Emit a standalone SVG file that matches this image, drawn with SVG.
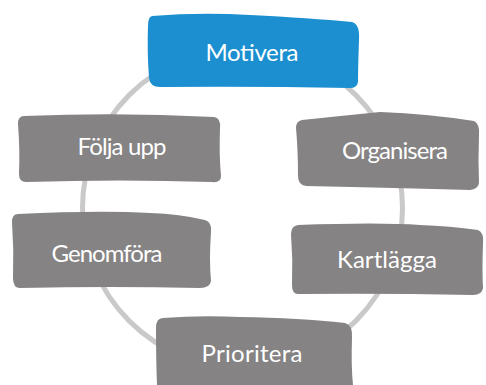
<svg xmlns="http://www.w3.org/2000/svg" width="486" height="385" viewBox="0 0 486 385">
<style>
.gray{fill:#858383}
.blue{fill:#1b8fd0}
.lbl{font-family:"Lato","Open Sans",sans-serif;font-size:24px;fill:#ffffff;text-anchor:middle}
</style>
<rect width="486" height="385" fill="#ffffff"/>
<g id="connectors">
<circle cx="242.5" cy="208" r="160" fill="none" stroke="#c9c9c9" stroke-width="5"/>
</g>
<g id="motivera">
<path class="blue" d="M152,16 Q200,12 250,15 Q310,18 352,22 Q360,24 359,40 Q358,70 358,82 Q357,88 350,88 Q250,86 160,87 Q150,87 149,78 Q147,50 148,26 Q148,17 152,16 Z"/>
<text class="lbl" x="252" y="61" textLength="93">Motivera</text>
</g>
<g id="folja">
<path class="gray" d="M24,116 Q120,112 214,117 Q221,118 220,128 Q219,155 221,176 Q221,183 212,182 Q120,179 26,182 Q19,182 19,174 Q20,150 18,124 Q18,116 24,116 Z"/>
<text class="lbl" x="122" y="155" textLength="89">Följa upp</text>
</g>
<g id="organisera">
<path class="gray" d="M302,120 Q340,116 380,112 Q430,114 474,121 Q480,124 479,135 Q478,160 479,183 Q478,189 470,190 Q400,188 306,186 Q298,185 298,176 Q298,150 296,128 Q296,121 302,120 Z"/>
<text class="lbl" x="395" y="159" textLength="106">Organisera</text>
</g>
<g id="genomfora">
<path class="gray" d="M18,214 Q100,210 150,213 Q180,214 205,220 Q212,222 211,232 Q209,260 211,281 Q210,288 200,288 Q110,286 20,288 Q13,288 13,278 Q14,250 12,222 Q12,214 18,214 Z"/>
<text class="lbl" x="107" y="262" textLength="111">Genomföra</text>
</g>
<g id="kartlagga">
<path class="gray" d="M298,225 Q380,222 420,225 Q450,226 478,230 Q484,232 483,244 Q482,270 483,288 Q482,295 473,295 Q380,293 298,294 Q292,294 292,285 Q293,260 291,234 Q291,226 298,225 Z"/>
<text class="lbl" x="387" y="268" textLength="100">Kartlägga</text>
</g>
<g id="prioritera">
<path class="gray" d="M163,318 Q200,315 240,317 Q300,318 345,323 Q353,325 352,338 Q351,365 353,385 L157,385 Q156,360 156,328 Q156,318 163,318 Z"/>
<text class="lbl" x="252" y="362" textLength="101">Prioritera</text>
</g>
</svg>
